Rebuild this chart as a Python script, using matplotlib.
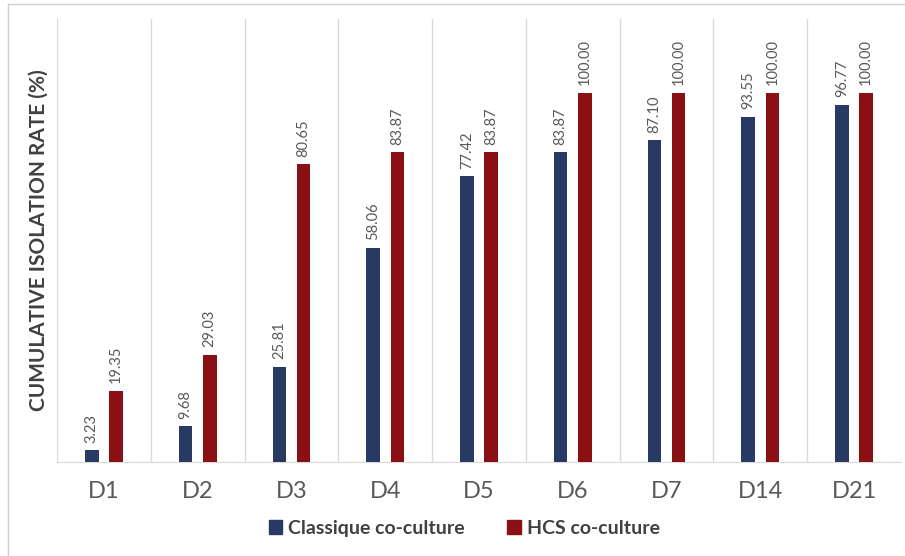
import matplotlib
matplotlib.use("Agg")
import matplotlib.pyplot as plt
from matplotlib.lines import Line2D
from matplotlib.patches import Patch
import numpy as np

days = ["D1", "D2", "D3", "D4", "D5", "D6", "D7", "D14", "D21"]
classique = [3.23, 9.68, 25.81, 58.06, 77.42, 83.87, 87.10, 93.55, 96.77]
hcs = [19.35, 29.03, 80.65, 83.87, 83.87, 100.00, 100.00, 100.00, 100.00]

blue = "#283a63"
red = "#8b1014"
grey_txt = "#595959"

plt.rcParams["font.family"] = ["Lato", "DejaVu Sans"]

fig = plt.figure(figsize=(9.05, 5.56), dpi=100)
ax = fig.add_axes([0.063, 0.169, 0.9325, 0.797])

x = np.arange(len(days))
w = 0.145
off = 0.129
ax.bar(x - off, classique, w, color=blue, zorder=3)
ax.bar(x + off, hcs, w, color=red, zorder=3)

for xi, v in zip(x - off, classique):
    ax.text(xi, v + 2, f"{v:.2f}", rotation=90, ha="center", va="bottom",
            fontsize=10.5, color=grey_txt)
for xi, v in zip(x + off, hcs):
    ax.text(xi, v + 2, f"{v:.2f}", rotation=90, ha="center", va="bottom",
            fontsize=10.5, color=grey_txt)

ax.set_xlim(-0.5, len(days) - 0.5)
ax.set_ylim(0, 120)
ax.set_xticks(x)
ax.set_xticklabels(days, fontsize=17, color=grey_txt)
ax.tick_params(axis="x", length=0, pad=14)
ax.set_yticks([])

# vertical separators between days
for b in np.arange(-0.5, len(days), 1):
    ax.axvline(b, color="#d9d9d9", lw=1, zorder=1)

for s in ["top", "right", "left"]:
    ax.spines[s].set_visible(False)
ax.spines["bottom"].set_color("#d9d9d9")

ax.set_ylabel("CUMULATIVE ISOLATION RATE (%)", fontsize=15, fontweight="bold",
              color="#404040", labelpad=6)

handles = [Patch(color=blue, label="Classique co-culture"),
           Patch(color=red, label="HCS co-culture")]
leg = fig.legend(handles=handles, loc="center", bbox_to_anchor=(0.513, 0.05),
                 ncol=2, frameon=False, handlelength=0.7, handleheight=0.7,
                 handletextpad=0.3, columnspacing=2.2,
                 prop={"size": 14, "weight": "bold"})
for t in leg.get_texts():
    t.set_color("#404040")

# outer frame
fig.add_artist(Line2D([8 / 905, 8 / 905], [0, 1 - 4 / 556], color="#d0d0d0", lw=1))
fig.add_artist(Line2D([8 / 905, 1], [1 - 4 / 556, 1 - 4 / 556], color="#d0d0d0", lw=1))

fig.savefig("out.png", dpi=100)
